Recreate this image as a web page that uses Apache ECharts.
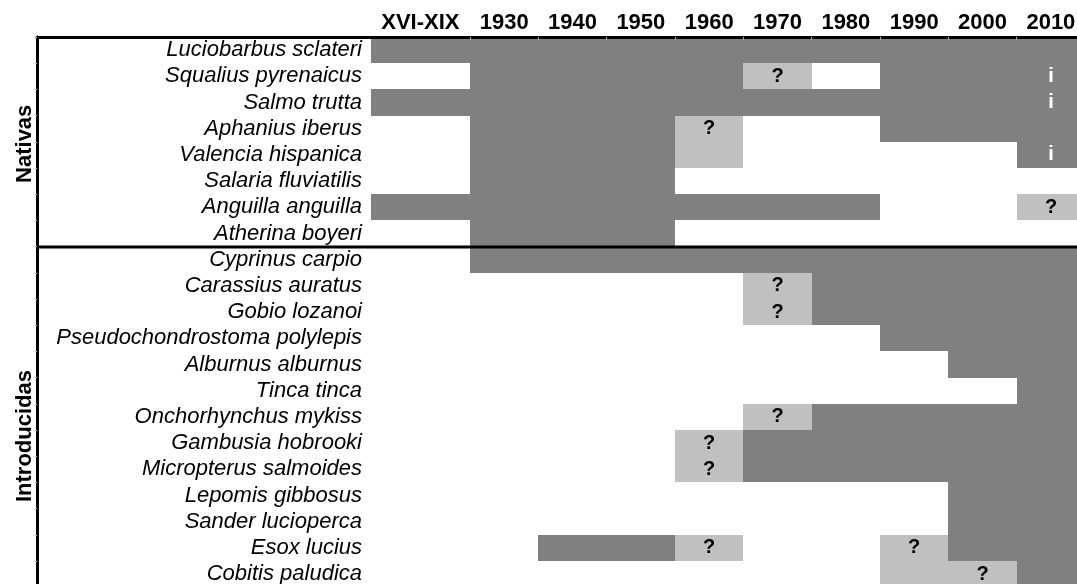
<!DOCTYPE html>
<html>
<head>
<meta charset="utf-8">
<script src="https://cdn.jsdelivr.net/npm/echarts@6/dist/echarts.min.js"></script>
<style>
  html, body { margin: 0; padding: 0; background: #fff; }
  #chart { width: 1077px; height: 584px; }
</style>
</head>
<body>
<div id="chart"></div>
<script>
////--------------------------------------------------------------------////
// periods (columns)
const years = ['XVI-XIX', '1930', '1940', '1950', '1960', '1970', '1980', '1990', '2000', '2010'];

const nativeSpecies = [
    'Luciobarbus sclateri', 'Squalius pyrenaicus', 'Salmo trutta', 'Aphanius iberus',
    'Valencia hispanica', 'Salaria fluviatilis', 'Anguilla anguilla', 'Atherina boyeri'
];
const introducedSpecies = [
    'Cyprinus carpio', 'Carassius auratus', 'Gobio lozanoi', 'Pseudochondrostoma polylepis',
    'Alburnus alburnus', 'Tinca tinca', 'Onchorhynchus mykiss', 'Gambusia hobrooki',
    'Micropterus salmoides', 'Lepomis gibbosus', 'Sander lucioperca', 'Esox lucius', 'Cobitis paludica'
];

// 0 absent, 1 present, 2 doubtful "?", 3 doubtful (no mark), 4 present "i"
const nativeStatus = [
    [1, 1, 1, 1, 1, 1, 1, 1, 1, 1],
    [0, 1, 1, 1, 1, 2, 0, 1, 1, 4],
    [1, 1, 1, 1, 1, 1, 1, 1, 1, 4],
    [0, 1, 1, 1, 2, 0, 0, 1, 1, 1],
    [0, 1, 1, 1, 3, 0, 0, 0, 0, 4],
    [0, 1, 1, 1, 0, 0, 0, 0, 0, 0],
    [1, 1, 1, 1, 1, 1, 1, 0, 0, 2],
    [0, 1, 1, 1, 0, 0, 0, 0, 0, 0]
];
const introducedStatus = [
    [0, 1, 1, 1, 1, 1, 1, 1, 1, 1],
    [0, 0, 0, 0, 0, 2, 1, 1, 1, 1],
    [0, 0, 0, 0, 0, 2, 1, 1, 1, 1],
    [0, 0, 0, 0, 0, 0, 0, 1, 1, 1],
    [0, 0, 0, 0, 0, 0, 0, 0, 1, 1],
    [0, 0, 0, 0, 0, 0, 0, 0, 0, 1],
    [0, 0, 0, 0, 0, 2, 1, 1, 1, 1],
    [0, 0, 0, 0, 2, 1, 1, 1, 1, 1],
    [0, 0, 0, 0, 2, 1, 1, 1, 1, 1],
    [0, 0, 0, 0, 0, 0, 0, 0, 1, 1],
    [0, 0, 0, 0, 0, 0, 0, 0, 1, 1],
    [0, 0, 1, 1, 2, 0, 0, 2, 1, 1],
    [0, 0, 0, 0, 0, 0, 0, 3, 2, 1]
];
////--------------------------------------------------------------------////
const FONT     = 'Liberation Sans, Arial, sans-serif';
const DARK     = '#808080';
const LIGHT    = '#c0c0c0';
const GRID_L   = 37;
const GRID_T   = 37;
const COL0_PX  = 370.7;   // left edge of first period column
const COL_W    = 68.34;   // px per period column
const FIRST_W  = 1.453;   // XVI-XIX column is wider
const ROW_H    = 26.2;

const species = nativeSpecies.concat(introducedSpecies);
const status  = nativeStatus.concat(introducedStatus);

const colEdges = [0];
for (let i = 0; i < years.length; i++) {
    colEdges.push(colEdges[i] + (i === 0 ? FIRST_W : 1));
}
const colCenters = years.map((y, i) => (colEdges[i] + colEdges[i + 1]) / 2);
const xMin = -(COL0_PX - GRID_L) / COL_W;
const xMax = colEdges[colEdges.length - 1];

const cells = [];
status.forEach((row, r) => {
    row.forEach((code, c) => {
        if (code !== 0) cells.push([c, species[r], code]);
    });
});
////-------------------////
function renderCell(params, api) {
    const c    = api.value(0);
    const r    = api.value(1);
    const code = api.value(2);
    const p0 = api.coord([colEdges[c], r]);
    const p1 = api.coord([colEdges[c + 1], r]);
    const h  = api.size([0, 1])[1];
    const x0 = Math.round(p0[0]), x1 = Math.round(p1[0]);
    const y0 = Math.round(p0[1] - h / 2), y1 = Math.round(p0[1] + h / 2);
    const dark = (code === 1 || code === 4);
    const children = [{
        type: 'rect',
        shape: { x: x0, y: y0, width: x1 - x0, height: y1 - y0 },
        style: { fill: dark ? DARK : LIGHT }
    }];
    if (code === 2 || code === 4) {
        children.push({
            type: 'text',
            style: {
                text: code === 2 ? '?' : 'i',
                x: (x0 + x1) / 2, y: p0[1],
                align: 'center', verticalAlign: 'middle',
                fontFamily: FONT, fontWeight: 'bold', fontSize: 20,
                fill: code === 2 ? '#000' : '#fff'
            }
        });
    }
    return { type: 'group', children: children };
}
////-------------------////
// black rule between the two groups, on top of the first introduced row
function renderSeparator(params, api) {
    const r  = api.value(0);
    const p  = api.coord([0, r]);
    const h  = api.size([0, 1])[1];
    const cs = params.coordSys;
    const y  = Math.round(p[1] - h / 2);
    return {
        type: 'line',
        shape: { x1: cs.x, y1: y, x2: cs.x + cs.width, y2: y },
        style: { stroke: '#000', lineWidth: 3 }
    };
}
////-------------------////
const chart = echarts.init(document.getElementById('chart'), null, { renderer: 'canvas' });
chart.setOption({
    animation: false,
    grid: {
        left: GRID_L, top: GRID_T,
        width: (xMax - xMin) * COL_W,
        height: species.length * ROW_H,
        outerBoundsMode: 'none',
        containLabel: false
    },
    xAxis: {
        type: 'value',
        position: 'top',
        min: xMin, max: xMax,
        z: 5,
        axisLine: { show: true, onZero: false, lineStyle: { color: '#000', width: 3 } },
        axisTick: { show: true, customValues: colEdges.slice(1, -1), length: 3, inside: true,
                    lineStyle: { color: '#b0b0b0', width: 1 } },
        splitLine: { show: false },
        axisLabel: {
            customValues: colCenters,
            margin: 3,
            color: '#000', fontFamily: FONT, fontWeight: 'bold', fontSize: 22,
            formatter: function (v) {
                let best = 0;
                colCenters.forEach((cc, i) => { if (Math.abs(cc - v) < Math.abs(colCenters[best] - v)) best = i; });
                return years[best];
            }
        }
    },
    yAxis: {
        type: 'category',
        data: species,
        inverse: true,
        z: 5,
        axisLine: { show: true, onZero: false, lineStyle: { color: '#000', width: 3 } },
        axisTick: { show: true, length: 2, lineStyle: { color: '#c0c0c0' } },
        splitLine: { show: false },
        axisLabel: {
            interval: 0,
            margin: -(362 - GRID_L),
            color: '#000', fontFamily: FONT, fontStyle: 'italic', fontSize: 22
        }
    },
    graphic: [
        {
            type: 'text', x: 24.5, y: GRID_T + ROW_H * nativeSpecies.length / 2 + 2, rotation: Math.PI / 2,
            style: { text: 'Nativas', align: 'center', verticalAlign: 'middle',
                     fontFamily: FONT, fontWeight: 'bold', fontSize: 22, fill: '#000' }
        },
        {
            type: 'text', x: 24.5, y: 436, rotation: Math.PI / 2,
            style: { text: 'Introducidas', align: 'center', verticalAlign: 'middle',
                     fontFamily: FONT, fontWeight: 'bold', fontSize: 22, fill: '#000' }
        }
    ],
    series: [
        {
            type: 'custom',
            renderItem: renderCell,
            encode: { x: 0, y: 1 },
            data: cells
        },
        {
            type: 'custom',
            z: 4,
            renderItem: renderSeparator,
            encode: { y: 0 },
            dimensions: [{ name: 'row', type: 'ordinal' }],
            data: [[introducedSpecies[0]]]
        }
    ]
});
window.addEventListener('resize', chart.resize);
</script>
</body>
</html>
